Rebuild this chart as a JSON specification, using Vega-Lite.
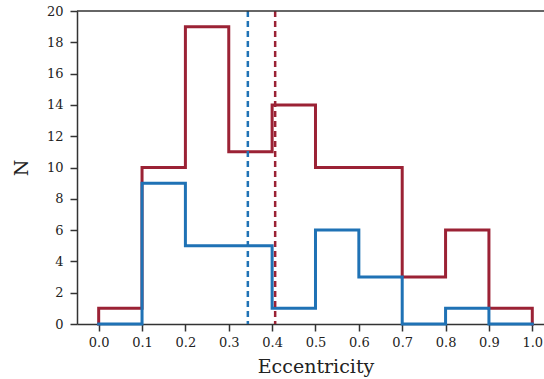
{
  "$schema": "https://vega.github.io/schema/vega-lite/v6.json",
  "autosize": "none",
  "width": 467,
  "height": 313,
  "padding": {"left": 77, "top": 11, "right": 0, "bottom": 55},
  "background": "white",
  "config": {
    "view": {"stroke": null},
    "axis": {
      "grid": false,
      "domainColor": "#333333",
      "domainWidth": 1.5,
      "tickColor": "#333333",
      "tickWidth": 1.5,
      "tickSize": 7,
      "labelFont": "DejaVu Serif",
      "labelFontSize": 13,
      "labelColor": "#222222",
      "labelOverlap": false,
      "titleFont": "DejaVu Serif",
      "titleFontSize": 19,
      "titleFontWeight": "normal",
      "titleColor": "#222222"
    }
  },
  "datasets": {
    "red": [
      {"e": 0.0, "n": 0}, {"e": 0.0, "n": 1}, {"e": 0.1, "n": 10}, {"e": 0.2, "n": 19},
      {"e": 0.3, "n": 11}, {"e": 0.4, "n": 14}, {"e": 0.5, "n": 10}, {"e": 0.6, "n": 10},
      {"e": 0.7, "n": 3}, {"e": 0.8, "n": 6}, {"e": 0.9, "n": 1}, {"e": 1.0, "n": 1}, {"e": 1.0, "n": 0}
    ],
    "blue": [
      {"e": 0.0, "n": 0}, {"e": 0.0, "n": 0}, {"e": 0.1, "n": 9}, {"e": 0.2, "n": 5},
      {"e": 0.3, "n": 5}, {"e": 0.4, "n": 1}, {"e": 0.5, "n": 6}, {"e": 0.6, "n": 3},
      {"e": 0.7, "n": 0}, {"e": 0.8, "n": 1}, {"e": 0.9, "n": 0}, {"e": 1.0, "n": 0}, {"e": 1.0, "n": 0}
    ],
    "means": [
      {"m": 0.344, "c": "#1f72b5"},
      {"m": 0.407, "c": "#9b2235"}
    ]
  },
  "layer": [
    {
      "data": {"name": "red"},
      "mark": {"type": "line", "interpolate": "step-after", "color": "#9b2235", "strokeWidth": 3, "strokeJoin": "miter", "strokeCap": "square"},
      "encoding": {
        "x": {
          "field": "e", "type": "quantitative",
          "scale": {"domain": [-0.05, 1.027], "nice": false, "zero": false},
          "axis": {
            "values": [0, 0.1, 0.2, 0.3, 0.4, 0.5, 0.6, 0.7, 0.8, 0.9, 1.0],
            "format": ".1f",
            "labelPadding": 5,
            "title": "Eccentricity",
            "titlePadding": 8,
            "titleX": 238.5
          }
        },
        "y": {
          "field": "n", "type": "quantitative",
          "scale": {"domain": [0, 20], "nice": false},
          "axis": {
            "values": [0, 2, 4, 6, 8, 10, 12, 14, 16, 18, 20],
            "tickCount": 11,
            "labelPadding": 7,
            "title": "N",
            "titlePadding": 15
          }
        },
        "order": {"value": null}
      }
    },
    {
      "data": {"name": "blue"},
      "mark": {"type": "line", "interpolate": "step-after", "color": "#1f72b5", "strokeWidth": 3, "strokeJoin": "miter", "strokeCap": "square"},
      "encoding": {
        "x": {"field": "e", "type": "quantitative"},
        "y": {
          "field": "n", "type": "quantitative",
          "axis": {
            "values": [0, 2, 4, 6, 8, 10, 12, 14, 16, 18, 20],
            "tickCount": 11,
            "labelPadding": 7,
            "title": "N",
            "titlePadding": 15
          }
        },
        "order": {"value": null}
      }
    },
    {
      "data": {"name": "means"},
      "mark": {"type": "rule", "strokeWidth": 2.5, "strokeDash": [6, 4]},
      "encoding": {
        "x": {"field": "m", "type": "quantitative"},
        "color": {"field": "c", "type": "nominal", "scale": null}
      }
    },
    {
      "data": {"values": [{"top": 20}]},
      "mark": {"type": "rule", "color": "#333333", "strokeWidth": 1.5},
      "encoding": {
        "y": {
          "field": "top", "type": "quantitative",
          "axis": {
            "values": [0, 2, 4, 6, 8, 10, 12, 14, 16, 18, 20],
            "tickCount": 11,
            "labelPadding": 7,
            "title": "N",
            "titlePadding": 15
          }
        }
      }
    }
  ]
}
